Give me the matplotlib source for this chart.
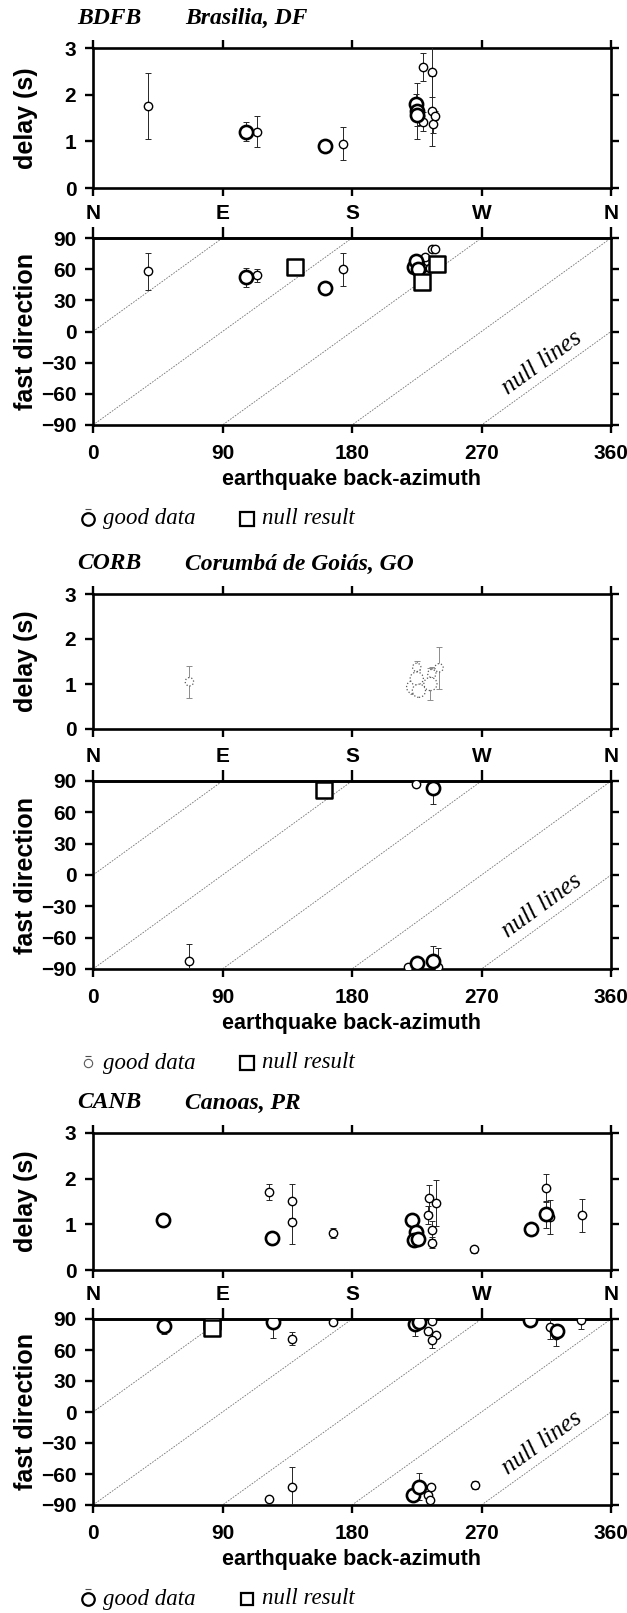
import matplotlib
matplotlib.use("Agg")
import matplotlib.pyplot as plt

plt.rcParams["font.family"] = "Liberation Sans"

FIG_W, FIG_H = 627, 1613
AX_L, AX_R = 93, 611

# ---- data (baz in degrees, delay in s, fast dir in degrees)

# BDFB - Brasilia, DF
bdfb_d_baz = [38, 106.5, 114, 161, 173.5, 224.5, 225, 225.5, 227, 229.5, 229.5, 235.5, 235.5, 236, 238]
bdfb_d_dt = [1.76, 1.21, 1.21, 0.89, 0.95, 1.80, 1.65, 1.57, 1.55, 1.42, 2.60, 2.49, 1.66, 1.37, 1.55]
bdfb_d_err = [0.70, 0.20, 0.34, 0.10, 0.35, 0.22, 0.60, 0.25, 0.20, 0.20, 0.30, 0.55, 0.75, 0.20, 0.10]
bdfb_d_big = [0, 1, 0, 1, 0, 1, 1, 1, 0, 0, 0, 0, 0, 0, 0]

bdfb_f_baz = [38, 106.5, 114, 161, 173.5, 223, 224.5, 226, 227.5, 229, 231, 234.5, 235.5, 237.5]
bdfb_f_phi = [58, 52, 54, 42, 60, 62, 68, 60, 65, 61, 72, 61, 79, 79]
bdfb_f_err = [18, 9, 6, 0, 16, 5, 5, 4, 3, 3, 3, 4, 2, 2]
bdfb_f_big = [0, 1, 0, 1, 0, 1, 1, 1, 0, 0, 0, 0, 0, 0]

bdfb_null_baz = [140.5, 228.5, 239]
bdfb_null_phi = [62, 48, 65]

# CORB - Corumba de Goias, GO
corb_d_baz = [67, 222.5, 225, 225, 226.5, 234.5, 235.5, 240.5]
corb_d_dt = [1.05, 0.93, 1.37, 1.12, 0.85, 1.00, 1.23, 1.36]
corb_d_err = [0.35, 0.15, 0.15, 0.20, 0.10, 0.35, 0.15, 0.47]
corb_d_big = [0, 1, 0, 1, 1, 1, 0, 0]

corb_f_baz = [67, 219, 224.5, 225.5, 236, 236, 240]
corb_f_phi = [-82, -88.4, 87.4, -84, 83, -82.5, -88]
corb_f_err = [16, 2, 2, 3, 15, 15, 18]
corb_f_big = [0, 0, 0, 1, 1, 1, 0]

corb_null_baz = [160.5]
corb_null_phi = [81]

# CANB - Canoas, PR
canb_d_baz = [48.5, 122.5, 124.5, 138, 138, 167, 221.5, 224.5, 223, 226, 232.6, 233.5,
              235.7, 238.6, 235.7, 265, 304.5, 314.5, 314.5, 317.5, 340]
canb_d_dt = [1.09, 1.71, 0.69, 1.51, 1.06, 0.81, 1.10, 0.84, 0.66, 0.67, 1.20, 1.57,
             0.87, 1.46, 0.60, 0.45, 0.90, 1.22, 1.80, 1.16, 1.20]
canb_d_err = [0.15, 0.18, 0.15, 0.38, 0.50, 0.10, 0.10, 0.10, 0.10, 0.10, 0.20, 0.30,
              0.20, 0.50, 0.12, 0.07, 0.10, 0.30, 0.30, 0.37, 0.36]
canb_d_big = [1, 0, 1, 0, 0, 0, 1, 1, 1, 1, 0, 0, 0, 0, 0, 0, 1, 1, 0, 0, 0]

canb_f_baz = [49.5, 125, 138, 167, 224, 226.3, 232.8, 235.9, 238.3, 235.9, 304, 317.7,
              322.6, 322, 339.3, 122.6, 138.2, 222.2, 226.3, 234.7, 232.8, 234, 265.4]
canb_f_phi = [83.5, 86.7, 71, 87, 85.5, 86.7, 78, 87.7, 74.8, 69.3, 88.7, 82.2,
              78, 74.2, 89.5, -84.5, -73, -80.3, -72.3, -72.3, -80.3, -85.2, -70.6]
canb_f_err = [8, 15, 6, 2, 12, 3, 3, 3, 3, 7, 2, 12, 5, 10, 9, 0, 20, 3, 13, 3, 3, 3, 4]
canb_f_big = [1, 1, 0, 0, 1, 1, 0, 0, 0, 0, 1, 0, 1, 0, 0, 0, 0, 1, 1, 0, 0, 0, 0]

canb_null_baz = [82.5, 82.5]
canb_null_phi = [88.5, 81.5]

baz_ticks = [0, 90, 180, 270, 360]
compass = ["N", "E", "S", "W", "N"]
delay_ticks = [0, 1, 2, 3]
fast_ticks = [-90, -60, -30, 0, 30, 60, 90]


def add_px_axes(fig, top, bottom):
    return fig.add_axes([AX_L / FIG_W, 1 - bottom / FIG_H,
                         (AX_R - AX_L) / FIG_W, (bottom - top) / FIG_H])


def ftext(fig, x, y, s, **kw):
    # text placed in figure pixels, measured from the top-left corner
    fig.text(x / FIG_W, 1 - y / FIG_H, s, **kw)


def fmark(fig, x, y, **kw):
    fig.add_artist(plt.Line2D([x / FIG_W], [1 - y / FIG_H], ls="none", **kw))


def frame(ax):
    for s in ax.spines.values():
        s.set_linewidth(1.9)
    ax.tick_params(direction="out", width=1.7, length=6, labelsize=15, pad=6)
    for lab in ax.get_xticklabels() + ax.get_yticklabels():
        lab.set_fontweight("bold")


# draw measurements, big circles = good data, small = fair
def draw_points(ax, baz, val, err, big, dotted=False):
    ecol = "0.55" if dotted else "0.15"
    for i in range(len(baz)):
        ax.errorbar(baz[i], val[i], yerr=err[i], fmt="none", ecolor=ecol,
                    elinewidth=0.7, capsize=2.2, capthick=0.7, zorder=3)
    for flag, size, lw in [(0, 36, 1.0), (1, 90, 1.9)]:
        xs = [baz[i] for i in range(len(baz)) if big[i] == flag]
        ys = [val[i] for i in range(len(baz)) if big[i] == flag]
        if dotted:
            ax.scatter(xs, ys, s=size, facecolors="white", edgecolors="0.35",
                       linewidths=0.9, linestyle=":", zorder=4)
        else:
            ax.scatter(xs, ys, s=size, facecolors="white", edgecolors="black",
                       linewidths=lw, zorder=4)


def station(fig, name, place, d_top, d_bot, f_top, f_bot, d, f, nulls,
            dotted=False, leg_circle=9, leg_square=10):
    # delay panel
    ax = add_px_axes(fig, d_top, d_bot)
    ax.set_xlim(0, 360)
    ax.set_ylim(0, 3)
    ax.set_xticks(baz_ticks)
    ax.set_yticks(delay_ticks)
    ax.tick_params(axis="x", top=True, bottom=True, labelbottom=False, length=7)
    ax.tick_params(axis="y", left=True, right=True, length=7)
    frame(ax)
    ax.set_ylabel("delay (s)", fontsize=18, fontweight="bold")
    ax.yaxis.set_label_coords((38 - AX_L) / (AX_R - AX_L), 0.5)
    draw_points(ax, *d, dotted=dotted)
    title_kw = dict(family="Liberation Serif", style="italic", weight="bold",
                    fontsize=17, ha="left", va="center")
    ftext(fig, 77, d_top - 30, name, **title_kw)
    ftext(fig, 185, d_top - 30, place, **title_kw)

    # fast direction panel
    ax = add_px_axes(fig, f_top, f_bot)
    ax.set_xlim(0, 360)
    ax.set_ylim(-90, 90)
    ax.set_xticks(baz_ticks)
    ax.set_yticks(fast_ticks)
    ax.tick_params(axis="x", top=False, bottom=True, length=7)
    ax.tick_params(axis="y", left=True, right=True, length=7)
    frame(ax)
    ax.tick_params(axis="x", pad=8)
    ax.set_ylabel("fast direction", fontsize=18, fontweight="bold")
    ax.yaxis.set_label_coords((38 - AX_L) / (AX_R - AX_L), 0.5)
    ax.set_xlabel("earthquake back-azimuth", fontsize=15.5, fontweight="bold")
    ax.xaxis.set_label_coords(0.5, -44 / (f_bot - f_top))

    sec = ax.secondary_xaxis("top")
    sec.set_xticks(baz_ticks, compass)
    sec.tick_params(direction="out", length=8, width=1.7, labelsize=15, pad=3)
    for lab in sec.get_xticklabels():
        lab.set_fontweight("bold")
    sec.spines["top"].set_linewidth(1.9)

    # null lines: fast direction parallel or perpendicular to back-azimuth
    for k in range(5):
        ax.plot([0, 360], [0 - 90 * k, 360 - 90 * k], color="0.45", lw=0.6,
                ls=(0, (2, 1.5)), zorder=1)
    ax.text(312, -30, "null lines", family="Liberation Serif", style="italic",
            fontsize=18, rotation=45, transform_rotates_text=True,
            ha="center", va="center", rotation_mode="anchor")

    draw_points(ax, *f)
    ax.scatter(nulls[0], nulls[1], marker="s", s=120, facecolors="white",
               edgecolors="black", linewidths=1.8, zorder=5)

    # legend below the panel
    ly = f_bot + 94
    leg_kw = dict(family="Liberation Serif", style="italic", fontsize=16.5, va="center")
    fmark(fig, 88, ly - leg_circle * 0.9 - 2, marker="_", ms=5, mec="0.3", mew=0.8)
    fmark(fig, 88, ly, marker="o", ms=leg_circle, mfc="white",
          mec="0.35" if dotted else "black", mew=0.8 if dotted else 1.6)
    ftext(fig, 103, ly, "good data", **leg_kw)
    fmark(fig, 247, ly, marker="s", ms=leg_square, mfc="white", mec="black", mew=1.6)
    ftext(fig, 262, ly, "null result", **leg_kw)


fig = plt.figure(figsize=(FIG_W / 100, FIG_H / 100), dpi=100)

station(fig, "BDFB", "Brasilia, DF", 48, 188, 238, 425,
        (bdfb_d_baz, bdfb_d_dt, bdfb_d_err, bdfb_d_big),
        (bdfb_f_baz, bdfb_f_phi, bdfb_f_err, bdfb_f_big),
        (bdfb_null_baz, bdfb_null_phi))
station(fig, "CORB", "Corumbá de Goiás, GO", 594, 729, 781, 969,
        (corb_d_baz, corb_d_dt, corb_d_err, corb_d_big),
        (corb_f_baz, corb_f_phi, corb_f_err, corb_f_big),
        (corb_null_baz, corb_null_phi), dotted=True, leg_circle=6)
station(fig, "CANB", "Canoas, PR", 1133, 1270, 1319, 1505,
        (canb_d_baz, canb_d_dt, canb_d_err, canb_d_big),
        (canb_f_baz, canb_f_phi, canb_f_err, canb_f_big),
        (canb_null_baz, canb_null_phi), leg_square=8)

fig.savefig("out.png", dpi=100)
